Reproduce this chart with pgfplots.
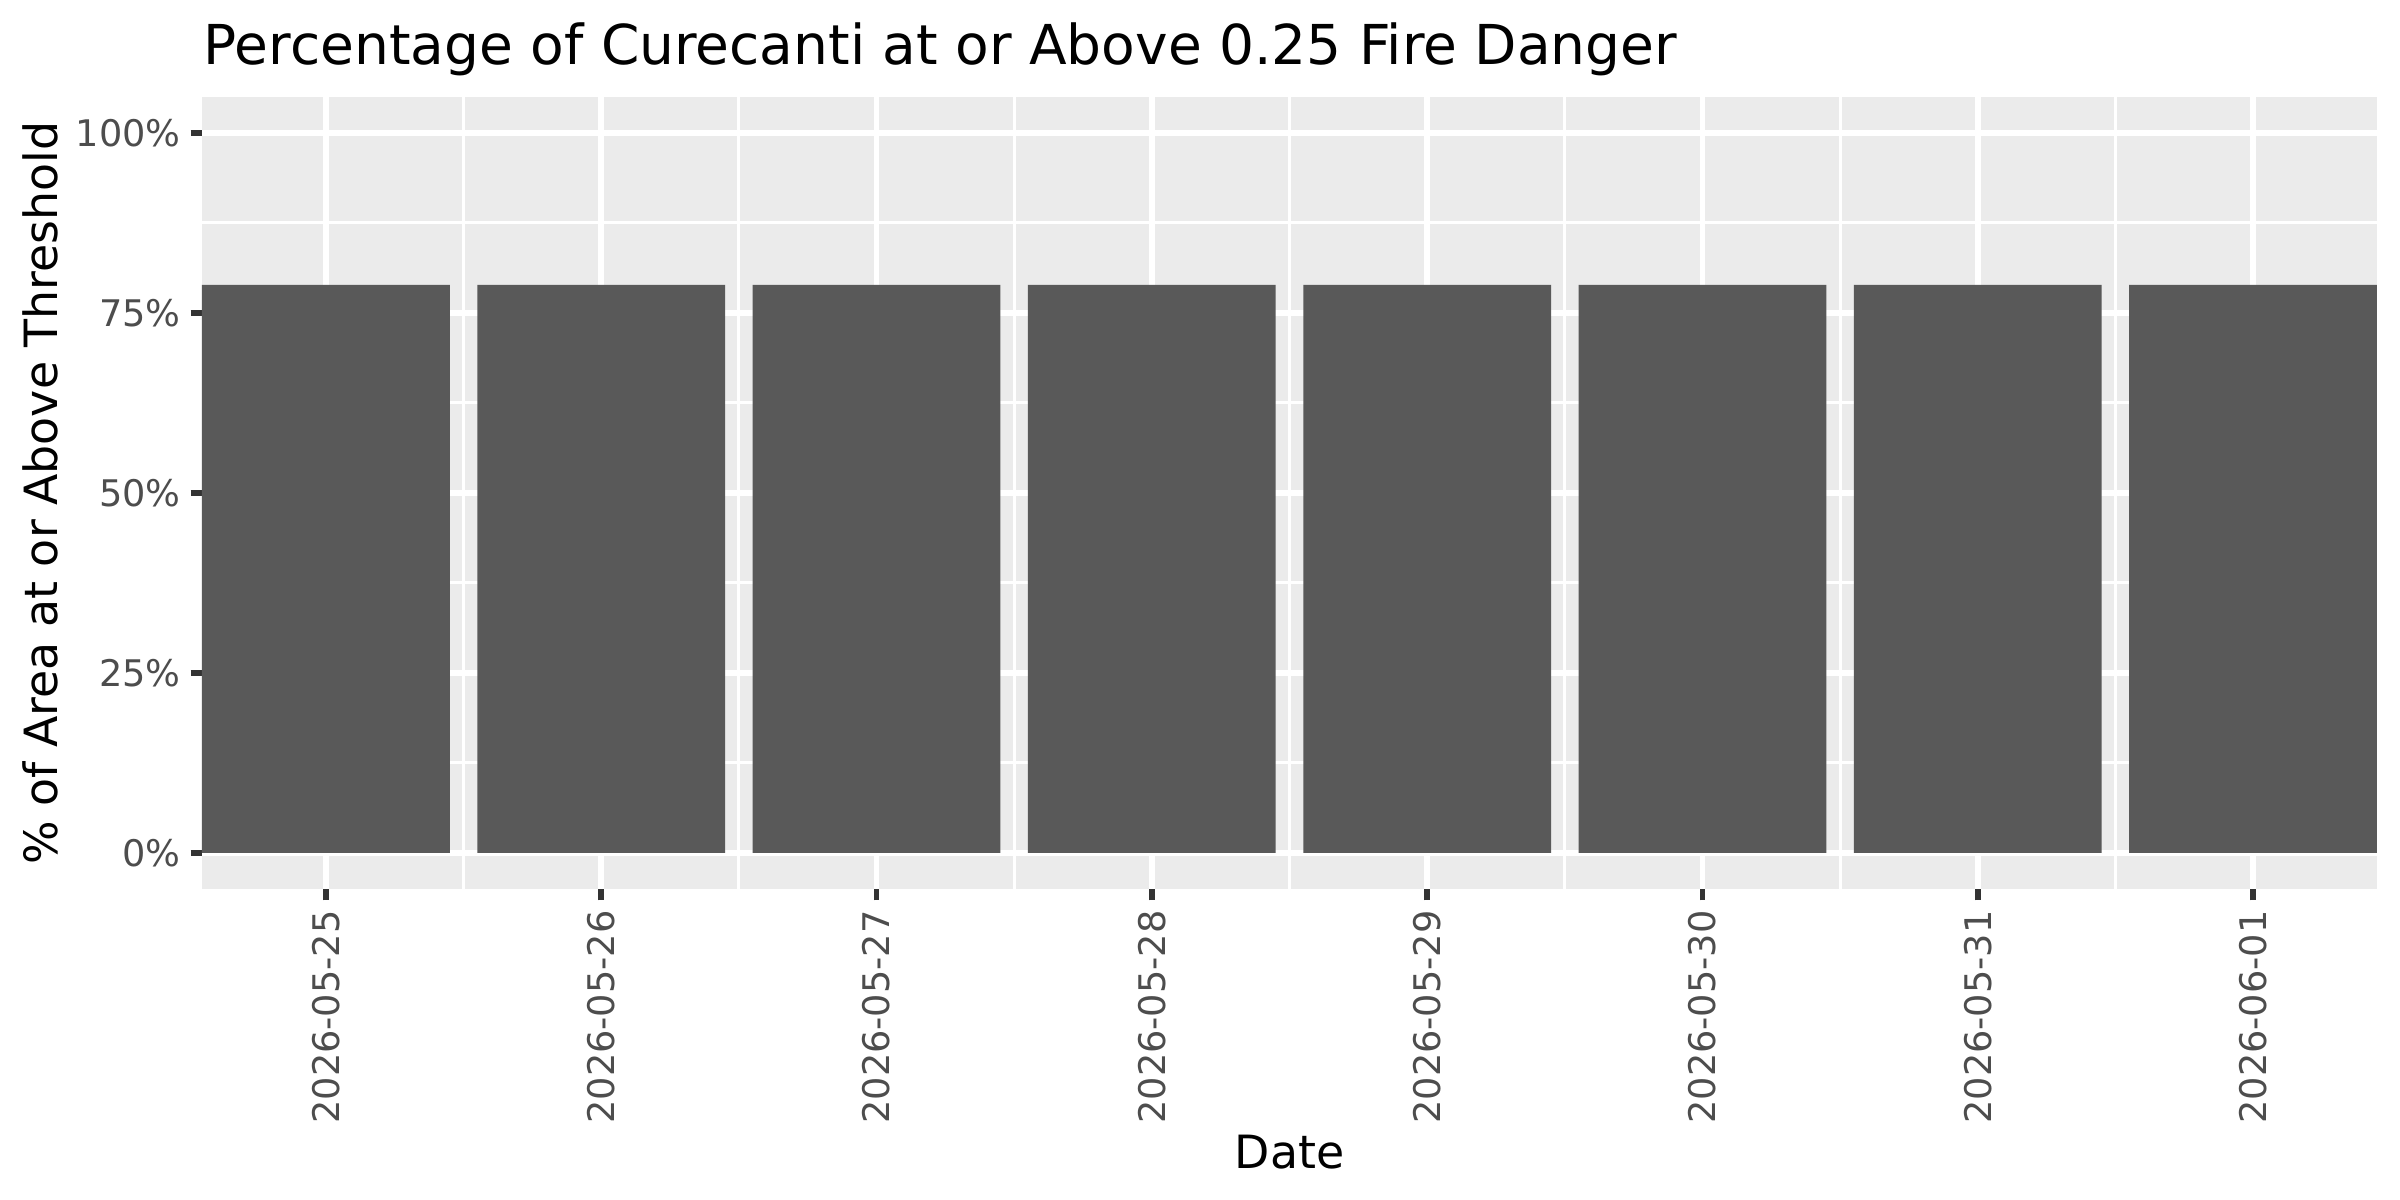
\documentclass[border=0pt]{standalone}
\usepackage{fontspec}
\setmainfont{DejaVu Sans}
\usepackage{pgfplots}
\pgfplotsset{compat=1.18}

\definecolor{panelbg}{HTML}{EBEBEB}
\definecolor{barfill}{HTML}{595959}
\definecolor{ticktext}{HTML}{4D4D4D}
\definecolor{tickmark}{HTML}{333333}

\begin{document}
\begin{tikzpicture}
\useasboundingbox[fill=white] (0,0) rectangle (576pt,288pt);
\begin{axis}[
    at={(48.48pt,74.64pt)}, anchor=south west,
    scale only axis,
    width=522pt, height=190.08pt,
    xmin=0.55, xmax=8.45,
    ymin=-5, ymax=105,
    axis background/.style={fill=panelbg},
    axis line style={draw=none},
    xtick={1,...,8},
    xticklabels={2026-05-25,2026-05-26,2026-05-27,2026-05-28,2026-05-29,2026-05-30,2026-05-31,2026-06-01},
    ytick={0,25,50,75,100},
    yticklabels={0\%,25\%,50\%,75\%,100\%},
    minor xtick={1.5,2.5,...,7.5},
    minor ytick={12.5,37.5,62.5,87.5},
    grid=both,
    major grid style={white, line width=1.42pt},
    minor grid style={white, line width=0.71pt},
    tick pos=left,
    tick align=outside,
    major tick length=2.75pt,
    minor tick length=0pt,
    tick style={draw=tickmark, line width=1.42pt},
    ticklabel style={font=\fontsize{8.8}{10}\selectfont, text=ticktext, inner sep=0pt},
    xticklabel style={rotate=90, anchor=east},
    yticklabel style={anchor=east},
    xticklabel shift=2.2pt,
    yticklabel shift=2.2pt,
]
\addplot[ybar, bar width=0.9, fill=barfill, draw=none]
    coordinates {
    (1,78.9)(2,78.9)(3,78.9)(4,78.9)(5,78.9)(6,78.9)(7,78.9)(8,78.9)
    };
\end{axis}
\node[anchor=base west, inner sep=0pt, font=\fontsize{13.2}{15}\selectfont]
    at (48.7pt,272.6pt) {Percentage of Curecanti at or Above 0.25 Fire Danger};
\node[anchor=base, inner sep=0pt, font=\fontsize{11}{13}\selectfont]
    at (309.5pt,7.44pt) {Date};
\node[anchor=base, rotate=90, inner sep=0pt, font=\fontsize{11}{13}\selectfont]
    at (13.7pt,169.7pt) {\% of Area at or Above Threshold};
\end{tikzpicture}
\end{document}
